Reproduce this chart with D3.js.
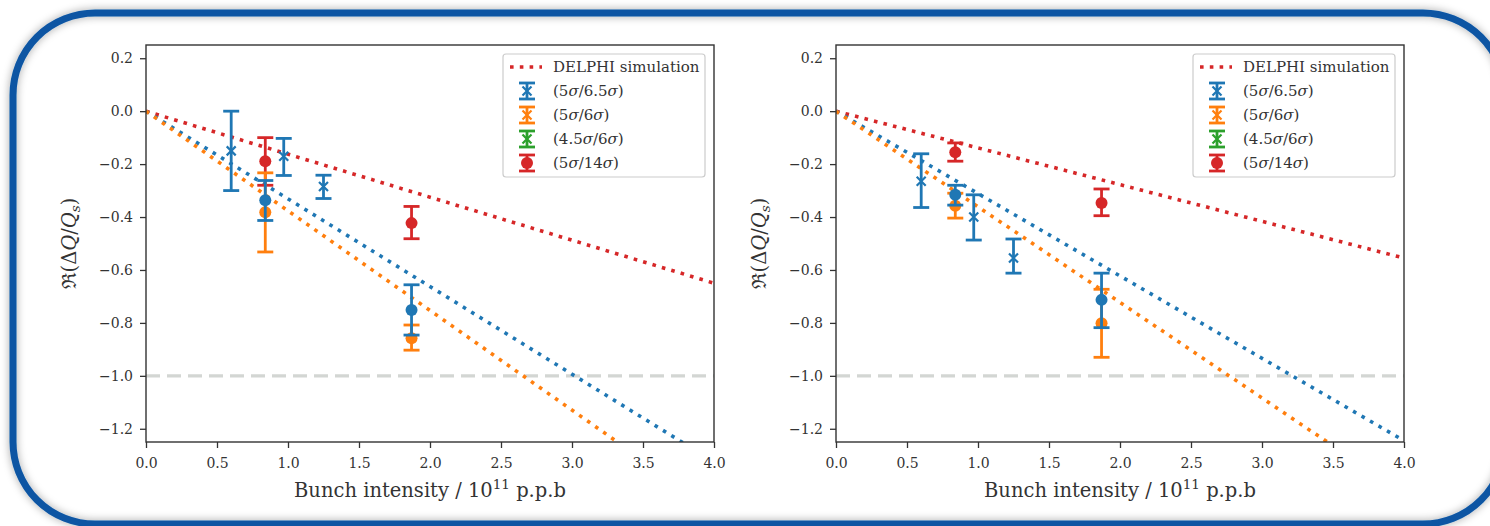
<!DOCTYPE html>
<html>
<head>
<meta charset="utf-8">
<script src="https://cdn.jsdelivr.net/npm/d3@7"></script>
<style>
  body { margin: 0; background: #fff; }
  svg { display: block; }
</style>
</head>
<body>
<div id="chart"></div>
<script>
// ---- data ----
const xTicks = [0, 0.5, 1.0, 1.5, 2.0, 2.5, 3.0, 3.5, 4.0];
const yTicks = [0.2, 0.0, -0.2, -0.4, -0.6, -0.8, -1.0, -1.2];
const legendLabels = ["DELPHI simulation", "(5σ/6.5σ)", "(5σ/6σ)", "(4.5σ/6σ)", "(5σ/14σ)"];
const seriesColors = ["#d62728", "#1f77b4", "#ff7f0e", "#2ca02c", "#d62728"];

// straight lines from the origin, given by their end points
const fitX = [0, 4.0];
const leftDelphiY = [0, -0.65];
const leftBlueFitY = [0, -1.325];
const leftOrangeFitY = [0, -1.506];
const rightDelphiY = [0, -0.555];
const rightBlueFitY = [0, -1.245];
const rightOrangeFitY = [0, -1.445];

// (5σ/6.5σ) cross markers
const crossX = [0.60, 0.97, 1.25];
const leftCrossY = [-0.15, -0.17, -0.285];
const leftCrossLo = [-0.30, -0.243, -0.33];
const leftCrossHi = [0.0, -0.103, -0.242];
const rightCrossY = [-0.265, -0.40, -0.555];
const rightCrossLo = [-0.364, -0.487, -0.612];
const rightCrossHi = [-0.161, -0.316, -0.483];

// circle markers
const circleX = [0.84, 1.87];
const leftBlueY = [-0.337, -0.751];
const leftBlueLo = [-0.413, -0.846];
const leftBlueHi = [-0.262, -0.656];
const leftOrangeY = [-0.382, -0.858];
const leftOrangeLo = [-0.532, -0.903];
const leftOrangeHi = [-0.233, -0.808];
const leftRedY = [-0.189, -0.423];
const leftRedLo = [-0.28, -0.482];
const leftRedHi = [-0.10, -0.36];

const rightBlueY = [-0.316, -0.713];
const rightBlueLo = [-0.355, -0.818];
const rightBlueHi = [-0.28, -0.612];
const rightOrangeY = [-0.357, -0.801];
const rightOrangeLo = [-0.404, -0.93];
const rightOrangeHi = [-0.31, -0.673];
const rightRedY = [-0.155, -0.347];
const rightRedLo = [-0.189, -0.395];
const rightRedHi = [-0.12, -0.294];

const refLineY = -1.0;

// ---- drawing ----
const width = 1490, height = 526;
const font = "'DejaVu Serif', 'Liberation Serif', serif";

const svg = d3.select("#chart").append("svg")
  .attr("width", width).attr("height", height)
  .style("font-family", font);

const defs = svg.append("defs");
const shadow = defs.append("filter").attr("id", "shadow")
  .attr("x", "-5%").attr("y", "-5%").attr("width", "110%").attr("height", "110%");
shadow.append("feDropShadow")
  .attr("dx", 0).attr("dy", 0).attr("stdDeviation", 4)
  .attr("flood-color", "#000").attr("flood-opacity", 0.35);

svg.append("rect").attr("width", width).attr("height", height).attr("fill", "#fff");

// blue rounded frame
svg.append("rect")
  .attr("x", 13).attr("y", 13)
  .attr("width", 1492).attr("height", 511)
  .attr("rx", 82).attr("ry", 82)
  .attr("fill", "none")
  .attr("stroke", "#0a55a3")
  .attr("stroke-width", 7)
  .attr("filter", "url(#shadow)");

function richText(sel, str) {
  // σ in italic, everything else upright
  str.split(/(σ)/).forEach(part => {
    if (!part) return;
    sel.append("tspan").attr("font-style", part === "σ" ? "italic" : "normal").text(part);
  });
}

function drawPanel(id, left, right, d) {
  const top = 45, bottom = 442;
  const x = d3.scaleLinear().domain([0, 4]).range([left, right]);
  const y = d3.scaleLinear().domain([-1.25, 0.25]).range([bottom, top]);
  const g = svg.append("g");

  g.append("clipPath").attr("id", "clip" + id)
    .append("rect").attr("x", left).attr("y", top)
    .attr("width", right - left).attr("height", bottom - top);

  const plot = g.append("g").attr("clip-path", `url(#clip${id})`);

  // grey reference line at -1
  plot.append("line")
    .attr("x1", left).attr("x2", right)
    .attr("y1", y(refLineY)).attr("y2", y(refLineY))
    .attr("stroke", "#d3d6d3").attr("stroke-width", 3.2)
    .attr("stroke-dasharray", "14,7");

  const line = d3.line().x(p => x(p[0])).y(p => y(p[1]));
  const lines = [
    [d.delphi, "#d62728"],
    [d.blueFit, "#1f77b4"],
    [d.orangeFit, "#ff7f0e"]
  ];
  lines.forEach(([ys, c]) => {
    plot.append("path")
      .datum(fitX.map((v, i) => [v, ys[i]]))
      .attr("d", line)
      .attr("fill", "none").attr("stroke", c)
      .attr("stroke-width", 3.6)
      .attr("stroke-dasharray", "3.6,6.2");
  });

  function errorbars(xs, ys, lo, hi, color, marker) {
    const pts = xs.map((v, i) => ({ x: v, y: ys[i], lo: lo[i], hi: hi[i] }));
    const eg = plot.append("g").attr("stroke", color).attr("fill", color);
    eg.selectAll("line.bar").data(pts).join("line").attr("class", "bar")
      .attr("x1", p => x(p.x)).attr("x2", p => x(p.x))
      .attr("y1", p => y(p.lo)).attr("y2", p => y(p.hi))
      .attr("stroke-width", 2.8);
    ["lo", "hi"].forEach(k => {
      eg.selectAll("line.cap" + k).data(pts).join("line").attr("class", "cap" + k)
        .attr("x1", p => x(p.x) - 8).attr("x2", p => x(p.x) + 8)
        .attr("y1", p => y(p[k])).attr("y2", p => y(p[k]))
        .attr("stroke-width", 2.8);
    });
    if (marker === "x") {
      eg.selectAll("path.mk").data(pts).join("path").attr("class", "mk")
        .attr("d", p => `M${x(p.x) - 4.5},${y(p.y) - 4.5}l9,9M${x(p.x) - 4.5},${y(p.y) + 4.5}l9,-9`)
        .attr("stroke-width", 2.2).attr("fill", "none");
    } else {
      eg.selectAll("circle.mk").data(pts).join("circle").attr("class", "mk")
        .attr("cx", p => x(p.x)).attr("cy", p => y(p.y)).attr("r", 6)
        .attr("stroke", "none");
    }
  }

  errorbars(crossX, d.crossY, d.crossLo, d.crossHi, "#1f77b4", "x");
  errorbars(circleX, d.redY, d.redLo, d.redHi, "#d62728", "o");
  errorbars(circleX, d.orangeY, d.orangeLo, d.orangeHi, "#ff7f0e", "o");
  errorbars(circleX, d.blueY, d.blueLo, d.blueHi, "#1f77b4", "o");

  // axes
  const fmt = v => (v < 0 ? "\u2212" : "") + Math.abs(v).toFixed(1);
  g.append("g")
    .attr("transform", `translate(0,${bottom})`)
    .call(d3.axisBottom(x).tickValues(xTicks).tickFormat(fmt).tickSize(6).tickSizeOuter(0).tickPadding(10))
    .call(a => a.select(".domain").remove())
    .call(a => a.selectAll("line").attr("stroke", "#333").attr("stroke-width", 1.3))
    .call(a => a.selectAll("text").attr("font-family", font).attr("font-size", 14).attr("fill", "#333"));
  g.append("g")
    .attr("transform", `translate(${left},0)`)
    .call(d3.axisLeft(y).tickValues(yTicks).tickFormat(fmt).tickSize(6).tickSizeOuter(0).tickPadding(7))
    .call(a => a.select(".domain").remove())
    .call(a => a.selectAll("line").attr("stroke", "#333").attr("stroke-width", 1.3))
    .call(a => a.selectAll("text").attr("font-family", font).attr("font-size", 14).attr("fill", "#333"));

  g.append("rect")
    .attr("x", left).attr("y", top)
    .attr("width", right - left).attr("height", bottom - top)
    .attr("fill", "none").attr("stroke", "#333").attr("stroke-width", 1.4);

  // axis labels
  const xl = g.append("text")
    .attr("x", (left + right) / 2).attr("y", 497)
    .attr("text-anchor", "middle").attr("font-size", 19.5).attr("fill", "#333");
  xl.append("tspan").text("Bunch intensity / 10");
  xl.append("tspan").attr("font-size", 13.5).attr("dy", -8).text("11");
  xl.append("tspan").attr("dy", 8).text(" p.p.b");

  const yl = g.append("text")
    .attr("transform", `translate(${left - 70},${(top + bottom) / 2}) rotate(-90)`)
    .attr("text-anchor", "middle").attr("font-size", 19.5).attr("fill", "#333");
  yl.append("tspan").text("ℜ");
  yl.append("tspan").text("(Δ");
  yl.append("tspan").attr("font-style", "italic").text("Q");
  yl.append("tspan").text("/");
  yl.append("tspan").attr("font-style", "italic").text("Q");
  yl.append("tspan").attr("font-style", "italic").attr("font-size", 13.5).attr("dy", 4).text("s");
  yl.append("tspan").attr("dy", -4).text(")");

  // legend
  const lx = right - 211, ly = top + 9;
  const leg = g.append("g");
  leg.append("rect")
    .attr("x", lx).attr("y", ly).attr("width", 202).attr("height", 123)
    .attr("rx", 3).attr("fill", "#fff").attr("fill-opacity", 0.8)
    .attr("stroke", "#cccccc").attr("stroke-width", 1.2);
  legendLabels.forEach((lab, i) => {
    const cy = ly + 13 + i * 24;
    const c = seriesColors[i];
    if (i === 0) {
      leg.append("line")
        .attr("x1", lx + 7).attr("x2", lx + 39).attr("y1", cy).attr("y2", cy)
        .attr("stroke", c).attr("stroke-width", 3.6).attr("stroke-dasharray", "3.6,6.2");
    } else {
      const hx = lx + 24;
      const hg = leg.append("g").attr("stroke", c).attr("fill", c);
      hg.append("line").attr("x1", hx).attr("x2", hx).attr("y1", cy - 8).attr("y2", cy + 8).attr("stroke-width", 2.8);
      [-8, 8].forEach(o => hg.append("line")
        .attr("x1", hx - 8).attr("x2", hx + 8).attr("y1", cy + o).attr("y2", cy + o).attr("stroke-width", 2.8));
      if (i === 4) {
        hg.append("circle").attr("cx", hx).attr("cy", cy).attr("r", 6).attr("stroke", "none");
      } else {
        hg.append("path").attr("d", `M${hx - 4.5},${cy - 4.5}l9,9M${hx - 4.5},${cy + 4.5}l9,-9`)
          .attr("stroke-width", 2.2).attr("fill", "none");
      }
    }
    const t = leg.append("text")
      .attr("x", lx + 50).attr("y", cy).attr("dy", "0.35em")
      .attr("font-size", 15).attr("fill", "#333");
    richText(t, lab);
  });
}

drawPanel("L", 146, 714, {
  delphi: leftDelphiY, blueFit: leftBlueFitY, orangeFit: leftOrangeFitY,
  crossY: leftCrossY, crossLo: leftCrossLo, crossHi: leftCrossHi,
  blueY: leftBlueY, blueLo: leftBlueLo, blueHi: leftBlueHi,
  orangeY: leftOrangeY, orangeLo: leftOrangeLo, orangeHi: leftOrangeHi,
  redY: leftRedY, redLo: leftRedLo, redHi: leftRedHi
});

drawPanel("R", 836, 1404, {
  delphi: rightDelphiY, blueFit: rightBlueFitY, orangeFit: rightOrangeFitY,
  crossY: rightCrossY, crossLo: rightCrossLo, crossHi: rightCrossHi,
  blueY: rightBlueY, blueLo: rightBlueLo, blueHi: rightBlueHi,
  orangeY: rightOrangeY, orangeLo: rightOrangeLo, orangeHi: rightOrangeHi,
  redY: rightRedY, redLo: rightRedLo, redHi: rightRedHi
});
</script>
</body>
</html>
